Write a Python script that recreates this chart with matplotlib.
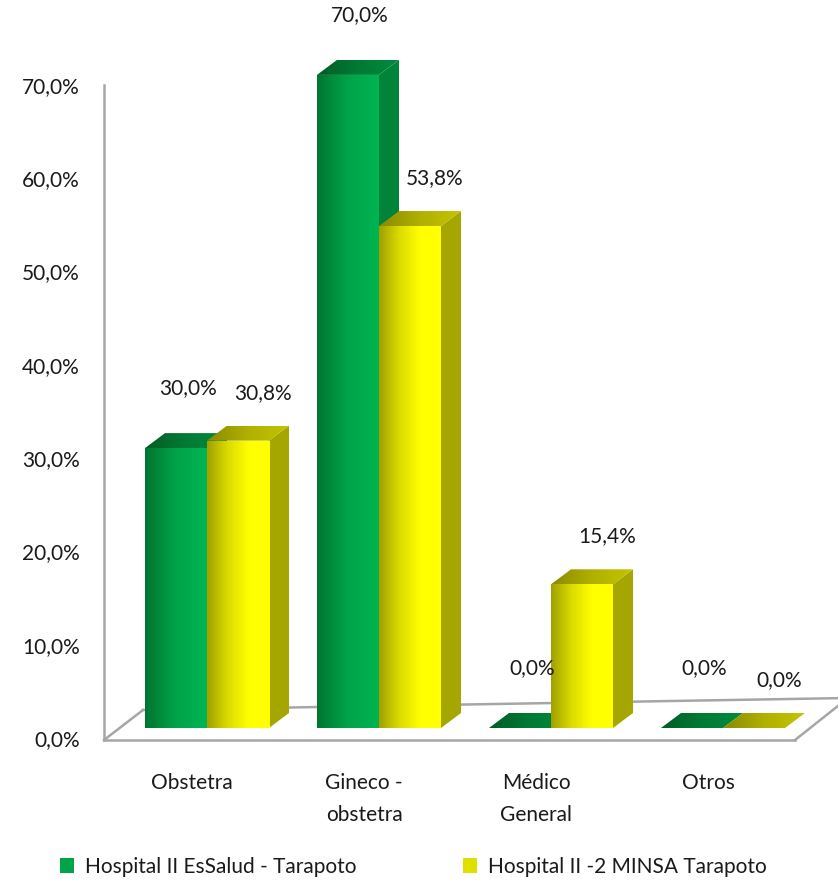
import numpy as np
import matplotlib
matplotlib.use("Agg")
import matplotlib.pyplot as plt
from matplotlib.colors import LinearSegmentedColormap
from matplotlib.patches import Polygon, Patch
from matplotlib.lines import Line2D

# ---------------- data ----------------
categories = ["Obstetra", "Gineco -\nobstetra", "Médico\nGeneral", "Otros"]
essalud = [30.0, 70.0, 0.0, 0.0]
minsa = [30.8, 53.8, 15.4, 0.0]
series_names = ["Hospital II EsSalud - Tarapoto", "Hospital II -2 MINSA Tarapoto"]
yticks = [0, 10, 20, 30, 40, 50, 60, 70]

# ---------------- layout ----------------
W, H = 838, 890
FONT = "Lato"
FS = 15
plt.rcParams["font.family"] = [FONT, "DejaVu Sans"]

fig = plt.figure(figsize=(W / 100, H / 100), dpi=100)
ax = fig.add_axes([0, 0, 1, 1])

X0PX, GAPPX = 207, 172      # pixel of category 0 centre, spacing
Y0PX, PXPER = 728, 9.33     # pixel of bar base, pixels per percent


def px2x(p):
    return (p - X0PX) / GAPPX


def px2y(p):
    return (Y0PX - p) / PXPER


ax.set_xlim(px2x(0), px2x(W))
ax.set_ylim(px2y(H), px2y(0))
ax.axis("off")

bw = 62 / GAPPX           # bar width
ddx = 20 / GAPPX          # depth offset x
ddy = 15 / PXPER          # depth offset y


def cmap_of(cols):
    return LinearSegmentedColormap.from_list("c", cols)


def grad_poly(xy, cols, z):
    poly = Polygon(xy, closed=True, facecolor="none", edgecolor="none", zorder=z)
    ax.add_patch(poly)
    xs = [p[0] for p in xy]
    ys = [p[1] for p in xy]
    img = ax.imshow(np.linspace(0, 1, 256).reshape(1, -1), cmap=cmap_of(cols),
                    extent=[min(xs), max(xs), min(ys), max(ys)], aspect="auto",
                    zorder=z, interpolation="bilinear")
    img.set_clip_path(poly)


# ---------------- floor / wall lines ----------------
gc = "#a6a6a6"
lw = 1.8
ax.add_line(Line2D([px2x(104), px2x(104)], [px2y(85), px2y(740)], color=gc, lw=lw, zorder=1))
ax.add_line(Line2D([px2x(104), px2x(795)], [px2y(740), px2y(740)], color=gc, lw=lw, zorder=1))
ax.add_line(Line2D([px2x(104), px2x(143)], [px2y(740), px2y(710)], color=gc, lw=lw, zorder=1))
ax.add_line(Line2D([px2x(795), px2x(848)], [px2y(740), px2y(698)], color=gc, lw=lw, zorder=1))
ax.add_line(Line2D([px2x(143), px2x(848)], [px2y(710), px2y(698)], color=gc, lw=lw, zorder=1))

# ---------------- bars ----------------
x = np.arange(len(categories))
styles = [
    dict(front=["#007530", "#00a448", "#00b452"], side="#00843a",
         top=["#005d26", "#007a34", "#008c3e"]),
    dict(front=["#a0a000", "#dcdc00", "#ffff00", "#ffff00"], side="#a6a600",
         top=["#8a8a00", "#b0b000", "#c4c400"]),
]

z = 3
for i in range(len(categories)):
    for s, (vals, off) in enumerate([(essalud, -bw / 2), (minsa, bw / 2)]):
        v = vals[i]
        st = styles[s]
        x0 = x[i] + off - bw / 2
        x1 = x0 + bw
        # side face
        if v > 0:
            ax.add_patch(Polygon([(x1, 0), (x1 + ddx, ddy), (x1 + ddx, v + ddy), (x1, v)],
                                 closed=True, facecolor=st["side"], edgecolor="none", zorder=z))
        z += 1
        # front face via bar
        bars = ax.bar([x[i] + off], [v], width=bw, color="none", edgecolor="none", zorder=z)
        if v > 0:
            r = bars[0]
            img = ax.imshow(np.linspace(0, 1, 256).reshape(1, -1), cmap=cmap_of(st["front"]),
                            extent=[x0, x1, 0, v], aspect="auto", zorder=z,
                            interpolation="bilinear")
            img.set_clip_path(r)
        z += 1
        # top face
        grad_poly([(x0, v), (x1, v), (x1 + ddx, v + ddy), (x0 + ddx, v + ddy)], st["top"], z)
        z += 1

# ---------------- data labels ----------------
def fmt(v):
    return f"{v:.1f}%".replace(".", ",")


PT = 0.72  # points per pixel at 100 dpi
for i in range(len(categories)):
    ax.annotate(fmt(essalud[i]), xy=(x[i] - bw / 2, essalud[i]), xytext=(12 * PT, 60 * PT),
                textcoords="offset points", ha="center", va="center", fontsize=FS,
                color="#1a1a1a", zorder=100)
    ax.annotate(fmt(minsa[i]), xy=(x[i] + bw / 2, minsa[i]), xytext=(25 * PT, 48 * PT),
                textcoords="offset points", ha="center", va="center", fontsize=FS,
                color="#1a1a1a", zorder=100)

# ---------------- y tick labels ----------------
for t in yticks:
    ax.annotate(fmt(t), xy=(px2x(80), t), xytext=(0, -12 * PT), textcoords="offset points",
                ha="right", va="center", fontsize=FS, color="#1a1a1a")

# ---------------- category labels ----------------
for i, c in enumerate(categories):
    ax.annotate(c, xy=(x[i], px2y(773)), xytext=(-15 * PT, 0), textcoords="offset points",
                ha="center", va="top", fontsize=FS, color="#1a1a1a", linespacing=1.75)

# ---------------- legend ----------------
handles = [Patch(facecolor="#00a448", edgecolor="none"),
           Patch(facecolor="#e0e000", edgecolor="none")]
fig.legend(handles, series_names, loc="center", bbox_to_anchor=(0.5 - 6 / W, 1 - 867 / H),
           ncol=2, frameon=False, fontsize=FS, handlelength=0.7, handleheight=0.7,
           handletextpad=0.5, columnspacing=5.1, labelcolor="#1a1a1a")

fig.savefig("out.png", dpi=100)
